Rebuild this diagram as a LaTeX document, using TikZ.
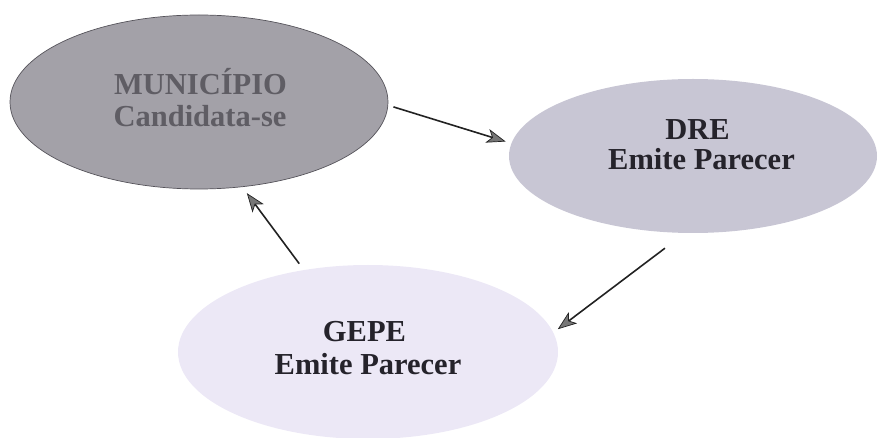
\documentclass[tikz,border=0pt]{standalone}
\usepackage{fontspec}
\setmainfont{Liberation Serif}
\usetikzlibrary{shapes.geometric,arrows.meta}
\definecolor{mfill}{HTML}{A3A1A8}
\definecolor{mline}{HTML}{55535A}
\definecolor{mtext}{HTML}{5F5D64}
\definecolor{dfill}{HTML}{C8C6D4}
\definecolor{gfill}{HTML}{ECE8F6}
\definecolor{dtext}{HTML}{25232B}
\definecolor{arrline}{HTML}{222222}
\definecolor{tipgray}{HTML}{767676}
\tikzset{
  bubble/.style={ellipse, inner sep=0pt, draw=none},
  lbl/.style={anchor=base, inner sep=0pt, font=\fontsize{30.5}{32}\selectfont\bfseries, text=dtext},
  arr/.style={draw=arrline, line width=1.6pt,
    -{Stealth[length=19pt,width=14pt,inset=5pt,line width=0.7pt,fill=tipgray]}}
}
\begin{document}
\begin{tikzpicture}[x=1pt,y=-1pt]
\useasboundingbox (0,0) rectangle (879,438);
\node[bubble, fill=mfill, draw=mline, line width=0.7pt, minimum width=378pt, minimum height=174pt] (m) at (199,102) {};
\node[bubble, fill=dfill, minimum width=368pt, minimum height=154pt] (d) at (693,156) {};
\node[bubble, fill=gfill, minimum width=380pt, minimum height=174pt] (g) at (368,352) {};
\node[lbl, text=mtext] (m1) at (200.5,95) {MUNICÍPIO};
\node[lbl, text=mtext] (m2) at (200,127) {Candidata-se};
\node[lbl] (d1) at (697.5,140) {DRE};
\node[lbl] (d2) at (701.5,170) {Emite Parecer};
\node[lbl] (g1) at (364.5,342) {GEPE};
\node[lbl] (g2) at (368,375) {Emite Parecer};
\draw[arr, shorten <=5.5pt, shorten >=6pt] (m.-1.6) -- (d.176.8);
\draw[arr, shorten <=25pt, shorten >=5.5pt] (d.-96) -- (g.6.4);
\draw[arr, shorten <=7.8pt, shorten >=7.6pt] (g.128.7) -- (m.-63.4);
\end{tikzpicture}
\end{document}
